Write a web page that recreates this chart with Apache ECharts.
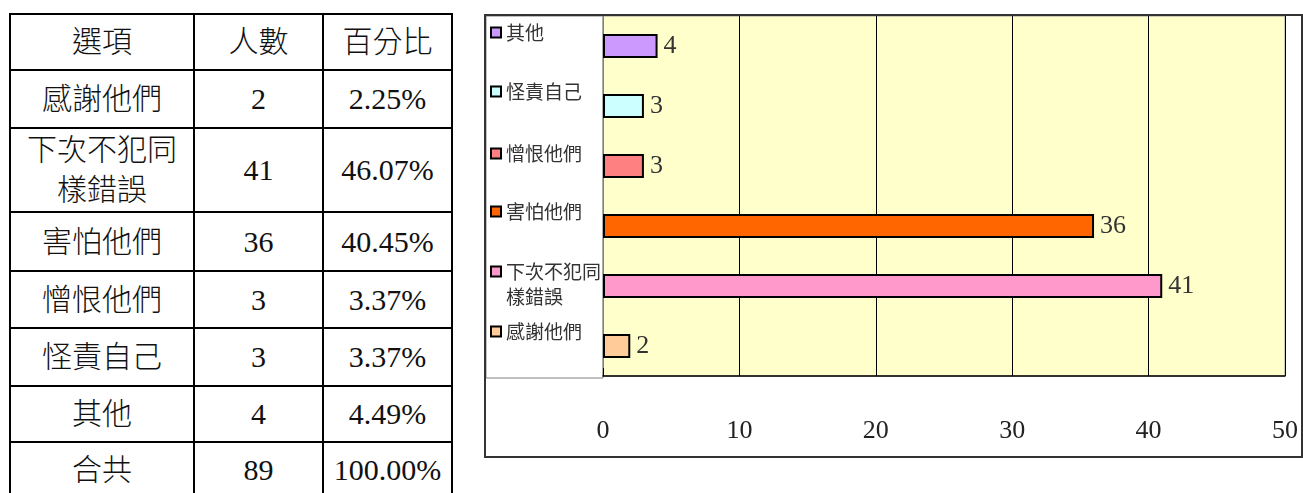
<!DOCTYPE html>
<html>
<head>
<meta charset="utf-8">
<script src="https://cdn.jsdelivr.net/npm/echarts@6/dist/echarts.min.js"></script>
<style>
  html, body { margin: 0; padding: 0; background: #fff; }
  #table { position: absolute; left: 9px; top: 13px; border-collapse: collapse; table-layout: fixed; }
  #table td { border: 2px solid #000; text-align: center; padding: 0; color: #111;
    font-family: "Liberation Serif", "Noto Sans CJK TC", serif; font-size: 30px; font-weight: 300; line-height: 40px; }
  #chart { position: absolute; left: 484px; top: 14px; width: 819px; height: 444px; box-sizing: border-box; border: 2px solid #333; }
</style>
</head>
<body>
<table id="table"></table>
<div id="chart"></div>
<script>
// 資料
var headers = ['選項', '人數', '百分比'];
var categories = ['感謝他們', '下次不犯同\n樣錯誤', '害怕他們', '憎恨他們', '怪責自己', '其他'];
var counts = [2, 41, 36, 3, 3, 4];
var percents = ['2.25%', '46.07%', '40.45%', '3.37%', '3.37%', '4.49%'];
var totalRow = ['合共', 89, '100.00%'];
var xTicks = [0, 10, 20, 30, 40, 50];

var colors = ['#FFCC99', '#FF99CC', '#FF6600', '#FF8080', '#CCFFFF', '#CC99FF'];
var colWidths = [184, 129, 129];
var rowHeights = [56, 58, 84, 59, 57, 58, 56, 56];
// legend icon centers (chart coords), same order as categories
var legendCenters = [316, 256, 196, 138, 76, 17];

// 表格
var rows = [headers];
categories.forEach(function(c, i) {
    rows.push([c, counts[i], percents[i]]);
});
rows.push(totalRow);
var html = '<colgroup>' + colWidths.map(function(w) { return '<col style="width:' + w + 'px">'; }).join('') + '</colgroup>';
rows.forEach(function(r, i) {
    html += '<tr style="height:' + rowHeights[i] + 'px">' + r.map(function(v) {
        return '<td>' + String(v).replace('\n', '<br>') + '</td>';
    }).join('') + '</tr>';
});
document.getElementById('table').innerHTML = html;

// 圖表
var chart = echarts.init(document.getElementById('chart'));
var series = categories.map(function(name, i) {
    var data = categories.map(function(c, j) { return j === i ? counts[i] : '-'; });
    return {
        name: name,
        type: 'bar',
        stack: 'all',
        barWidth: 24,
        data: data,
        itemStyle: { color: colors[i], borderColor: '#000', borderWidth: 2 },
        label: {
            show: true, position: 'right', distance: 6,
            fontFamily: 'Liberation Serif', fontSize: 26, color: '#333'
        },
        animation: false
    };
});
var legends = categories.map(function(name, i) {
    var twoLine = name.indexOf('\n') >= 0;
    return {
        data: [name],
        left: 4,
        top: legendCenters[i] - (twoLine ? 38 : 10),
        padding: 0,
        orient: 'vertical',
        icon: 'rect',
        itemWidth: 10,
        itemHeight: 10,
        selectedMode: false,
        // 兩行的項目: 前面加一個空行, 讓第一行對齊圖示
        formatter: twoLine ? function(n) { return ' \n' + n; } : '{name}',
        textStyle: { fontFamily: 'Noto Sans CJK TC', fontSize: 19, lineHeight: twoLine ? 25 : 19, color: '#333' }
    };
});

chart.setOption({
    animation: false,
    grid: {
        left: 117, top: 0, width: 686, height: 360,
        show: true, backgroundColor: '#FFFFCC', borderColor: '#999', borderWidth: 1
    },
    graphic: [{
        type: 'rect', z: -1,
        shape: { x: 0, y: 0, width: 117, height: 362 },
        style: { fill: '#fff', stroke: '#808080', lineWidth: 1 }
    }],
    legend: legends,
    xAxis: {
        type: 'value',
        min: xTicks[0], max: xTicks[xTicks.length - 1], interval: 10,
        axisLine: { show: true, lineStyle: { color: '#000', width: 1.5 } },
        axisTick: { show: true, inside: true, length: 8, lineStyle: { color: '#000' } },
        splitLine: { show: true, lineStyle: { color: '#000', width: 1 } },
        axisLabel: { margin: 42, fontFamily: 'Liberation Serif', fontSize: 26, color: '#222' }
    },
    yAxis: {
        type: 'category',
        data: categories,
        axisLabel: { show: false },
        axisTick: { show: false },
        axisLine: { show: true, lineStyle: { color: '#808080' } }
    },
    series: series
});
</script>
</body>
</html>
